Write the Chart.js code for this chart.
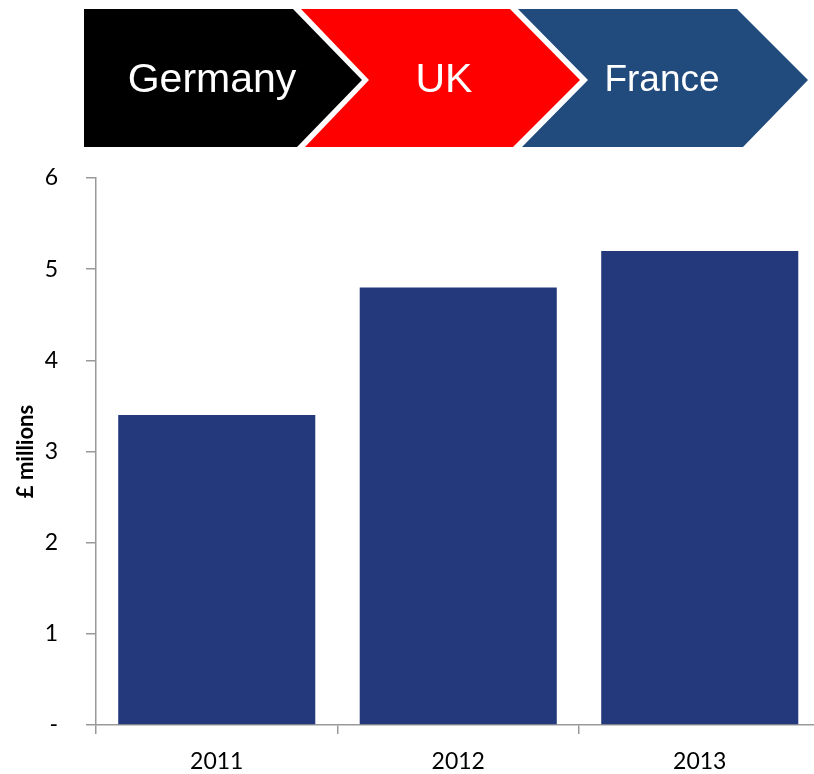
<!DOCTYPE html>
<html>
<head>
<meta charset="utf-8">
<title>Revenue by year</title>
<script src="https://cdn.jsdelivr.net/npm/chart.js@4.4.0/dist/chart.umd.min.js"></script>
<style>
    html, body { margin: 0; padding: 0; background: #fff; overflow: hidden; }
    body { width: 814px; height: 774px; position: relative; }
    #chart { position: absolute; left: 0; top: 0; }
    .chev { position: absolute; left: 0; top: 0; width: 814px; height: 160px; }
    .chev-label {
        position: absolute;
        color: #fff;
        font-family: "Liberation Sans", Arial, sans-serif;
        line-height: 1;
        white-space: nowrap;
        transform: translateX(-50%);
    }
</style>
</head>
<body>
<canvas id="chart" width="830" height="774"></canvas>

<!-- process chevrons along the top -->
<div class="chev" style="background:#000;clip-path:polygon(84px 9px,293px 9px,362px 80px,297px 147px,84px 147px);"></div>
<div class="chev" style="background:#ff0000;clip-path:polygon(301px 9px,510px 9px,580px 80px,513px 147px,305px 147px,369px 80px);"></div>
<div class="chev" style="background:#214a7d;clip-path:polygon(518px 9px,737px 9px,808px 80px,743px 147px,522px 147px,588px 80px);"></div>
<div class="chev-label" id="lbl0" style="left:212px;top:58px;font-size:41px;"></div>
<div class="chev-label" id="lbl1" style="left:444px;top:58px;font-size:41px;"></div>
<div class="chev-label" id="lbl2" style="left:662px;top:60px;font-size:37px;"></div>

<script>
// Data
const stages = ['Germany', 'UK', 'France'];
const years = ['2011', '2012', '2013'];
const revenue = [3.4, 4.8, 5.2];
const yTickLabels = ['-', '1', '2', '3', '4', '5', '6'];

const barColor = '#24387c';
const axisGrey = '#999999';
const tickFont = { family: 'Lato', size: 23 };

document.addEventListener('DOMContentLoaded', () => {
    stages.forEach((name, i) => {
        document.getElementById(`lbl${i}`).textContent = name;
    });
    initChart();
});

function initChart() {
    const ctx = document.getElementById('chart').getContext('2d');
    new Chart(ctx, {
        type: 'bar',
        data: {
            labels: years,
            datasets: [{
                data: revenue,
                backgroundColor: barColor,
                barPercentage: 0.816,
                categoryPercentage: 1
            }]
        },
        options: {
            responsive: false,
            animation: false,
            layout: { padding: { top: 178, right: 9.5, left: 0, bottom: 0 } },
            plugins: {
                legend: { display: false },
                tooltip: { enabled: false }
            },
            scales: {
                x: {
                    grid: {
                        drawOnChartArea: false,
                        drawTicks: true,
                        tickLength: 9,
                        color: axisGrey,
                        lineWidth: 1.5,
                        offset: true
                    },
                    border: { display: true, color: axisGrey, width: 1.5 },
                    ticks: { font: tickFont, color: '#000', padding: 14 },
                    afterFit: s => { s.height = 49; }
                },
                y: {
                    min: 0,
                    max: 6,
                    grid: {
                        drawOnChartArea: false,
                        drawTicks: true,
                        tickLength: 10,
                        color: axisGrey,
                        lineWidth: 1.5
                    },
                    border: { display: true, color: axisGrey, width: 1.5 },
                    ticks: {
                        stepSize: 1,
                        padding: 28,
                        font: tickFont,
                        color: '#000',
                        callback: (v, i) => yTickLabels[i]
                    },
                    title: {
                        display: true,
                        text: '£ millions',
                        color: '#000',
                        font: { family: 'Lato', size: 22, weight: 'bold' },
                        padding: { top: 13, bottom: 0 }
                    },
                    afterFit: s => { s.width = 96; }
                }
            }
        }
    });
}
</script>
</body>
</html>
